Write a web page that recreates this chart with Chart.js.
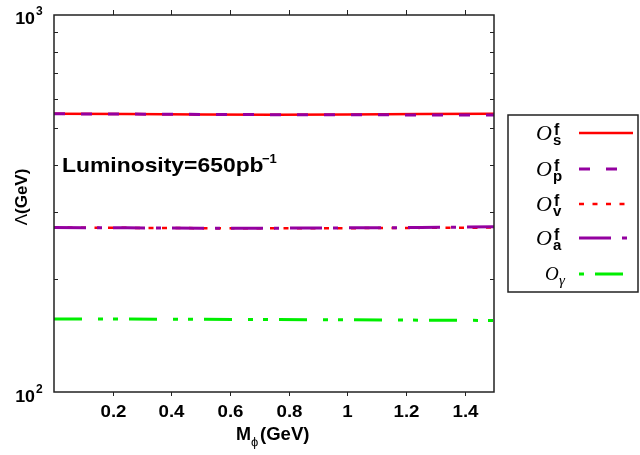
<!DOCTYPE html>
<html>
<head>
<meta charset="utf-8">
<script src="https://cdn.jsdelivr.net/npm/chart.js@4.4.0/dist/chart.umd.min.js"></script>
<style>
  html, body { margin: 0; padding: 0; background: #fff; }
  #wrap { width: 640px; height: 455px; }
</style>
</head>
<body>
<div id="wrap"><canvas id="lambdaChart" width="640" height="455"></canvas></div>
<script>
// mass of the scalar (GeV) and the Lambda reach of each operator (GeV)
const massPoints = [0, 0.25, 0.5, 0.75, 1.0, 1.25, 1.5];
const scalarVals = [547, 546, 545, 544, 545, 546, 547];
const pseudoVals = [547, 546, 545, 544, 544, 543, 543];
const vectorVals = [273, 272.5, 272, 272, 272, 272.5, 273];
const axialVals = [273, 272.5, 272, 272, 272.5, 273, 274.5];
const photonVals = [156.2, 156.1, 155.9, 155.7, 155.4, 155.1, 154.8];

const xTickVals = [0.2, 0.4, 0.6, 0.8, 1, 1.2, 1.4];
const xTickLabels = ['0.2', '0.4', '0.6', '0.8', '1', '1.2', '1.4'];
const yTickVals = [100, 1000];
const yTickExp = ['2', '3'];
const yMinorVals = [200, 300, 400, 500, 600, 700, 800, 900];

const legendSubs = ['s', 'p', 'v', 'a'];

const SANS = '"Liberation Sans", Arial, sans-serif';
const SERIF = '"Liberation Serif", "Times New Roman", serif';

const toPoints = vals => massPoints.map((x, i) => ({ x: x, y: vals[i] }));

// text with an optional horizontal stretch
function stretchText(ctx, text, x, y, font, align, sx) {
  ctx.save();
  ctx.font = font;
  ctx.textAlign = align || 'left';
  ctx.textBaseline = 'alphabetic';
  ctx.translate(x, y);
  ctx.scale(sx || 1, 1);
  ctx.fillText(text, 0, 0);
  ctx.restore();
}

const framePlugin = {
  id: 'frame',
  afterDraw(chart) {
    const ctx = chart.ctx;
    const area = chart.chartArea;
    const xs = chart.scales.x;
    const ys = chart.scales.y;
    ctx.save();
    ctx.fillStyle = '#000';
    ctx.strokeStyle = '#222';
    ctx.lineWidth = 1.5;
    ctx.strokeRect(area.left, area.top, area.right - area.left, area.bottom - area.top);

    // x ticks, outward on top and bottom
    ctx.lineWidth = 1;
    xTickVals.forEach((v, i) => {
      const px = Math.round(xs.getPixelForValue(v)) + 0.5;
      ctx.beginPath();
      ctx.moveTo(px, area.bottom); ctx.lineTo(px, area.bottom + 4);
      ctx.moveTo(px, area.top); ctx.lineTo(px, area.top - 5);
      ctx.stroke();
      stretchText(ctx, xTickLabels[i], px, 417, 'bold 17px ' + SANS, 'center', 1.1);
    });

    // y minor ticks, inward on both sides
    yMinorVals.forEach(v => {
      const py = Math.round(ys.getPixelForValue(v)) + 0.5;
      ctx.beginPath();
      ctx.moveTo(area.left, py); ctx.lineTo(area.left + 4, py);
      ctx.moveTo(area.right, py); ctx.lineTo(area.right - 4, py);
      ctx.stroke();
    });

    // y decade labels 10^n
    yTickVals.forEach((v, i) => {
      const py = ys.getPixelForValue(v);
      const base = i === 0 ? py + 9.5 : py + 9;
      stretchText(ctx, '10', 35, base, 'bold 17px ' + SANS, 'right', 1.05);
      stretchText(ctx, yTickExp[i], 36, base - 9, 'bold 12px ' + SANS, 'left', 1);
    });

    // x title: M_phi(GeV)
    stretchText(ctx, 'M', 236, 440, 'bold 18px ' + SANS, 'left', 1);
    stretchText(ctx, 'ϕ', 251, 446, '13px ' + SANS, 'left', 1);
    stretchText(ctx, '(GeV)', 260, 440, 'bold 18px ' + SANS, 'left', 1.03);

    // y title: Lambda(GeV), rotated
    ctx.save();
    ctx.translate(27, 197);
    ctx.rotate(-Math.PI / 2);
    ctx.font = 'bold 17px ' + SANS;
    const gw = ctx.measureText('(GeV)').width;
    ctx.font = '17px ' + SANS;
    const lw = ctx.measureText('Λ').width;
    const start = -(gw + lw) / 2;
    ctx.textAlign = 'left';
    ctx.fillText('Λ', start, 0);
    ctx.font = 'bold 17px ' + SANS;
    ctx.fillText('(GeV)', start + lw, 0);
    ctx.restore();

    // luminosity note
    stretchText(ctx, 'Luminosity=650pb', 62, 172, 'bold 21px ' + SANS, 'left', 1.09);
    stretchText(ctx, '−1', 262, 163, 'bold 13px ' + SANS, 'left', 1);

    // legend box
    const bx = 508, by = 115, bw = 130, bh = 177;
    ctx.lineWidth = 1.5;
    ctx.strokeStyle = '#222';
    ctx.strokeRect(bx, by, bw, bh);
    const rowY = [133, 169, 204, 238, 274];
    const dashOffsets = [0, 0, 0, 0, 59];
    chart.data.datasets.forEach((ds, i) => {
      const y = rowY[i];
      ctx.save();
      ctx.strokeStyle = ds.borderColor;
      ctx.lineWidth = ds.borderWidth;
      ctx.setLineDash(ds.borderDash || []);
      ctx.lineDashOffset = dashOffsets[i];
      ctx.beginPath();
      ctx.moveTo(579, y); ctx.lineTo(633, y);
      ctx.stroke();
      ctx.restore();
      if (i < 4) {
        stretchText(ctx, 'O', 536, y + 7, 'italic 22px ' + SERIF, 'left', 1);
        stretchText(ctx, 'f', 554, y + 2, 'bold 16px ' + SANS, 'left', 1);
        stretchText(ctx, legendSubs[i], 553, y + 12, 'bold 15px ' + SANS, 'left', 1);
      } else {
        stretchText(ctx, 'O', 545, y + 6, 'italic 19px ' + SERIF, 'left', 1);
        stretchText(ctx, 'γ', 559, y + 11, 'italic 15px ' + SERIF, 'left', 1);
      }
    });
    ctx.restore();
  }
};

new Chart(document.getElementById('lambdaChart'), {
  type: 'line',
  data: {
    datasets: [
      { label: 'O_s', data: toPoints(scalarVals), borderColor: '#ff0000', borderWidth: 2.5, borderDash: [], order: 5 },
      { label: 'O_p', data: toPoints(pseudoVals), borderColor: '#9400a0', borderWidth: 3, borderDash: [11, 16], order: 4 },
      { label: 'O_v', data: toPoints(vectorVals), borderColor: '#ff0000', borderWidth: 2.5, borderDash: [5, 8.5], order: 3 },
      { label: 'O_a', data: toPoints(axialVals), borderColor: '#9400a0', borderWidth: 3, borderDash: [32, 11, 5, 11], order: 2 },
      { label: 'O_gamma', data: toPoints(photonVals), borderColor: '#00ee00', borderWidth: 3, borderDash: [28, 16, 5, 10, 5, 11], order: 1 }
    ]
  },
  options: {
    responsive: false,
    animation: false,
    layout: { padding: { left: 54, top: 15, right: 146, bottom: 63 } },
    elements: { point: { radius: 0 }, line: { tension: 0, fill: false } },
    plugins: { legend: { display: false }, tooltip: { enabled: false } },
    scales: {
      x: { type: 'linear', min: 0, max: 1.5, display: false },
      y: { type: 'logarithmic', min: 100, max: 1000, display: false }
    }
  },
  plugins: [framePlugin]
});
</script>
</body>
</html>
